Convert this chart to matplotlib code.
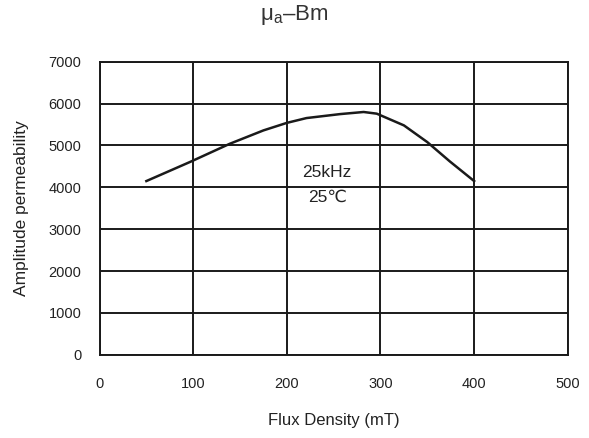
import numpy as np
import matplotlib
matplotlib.use('Agg')
import matplotlib.pyplot as plt

plt.rcParams['font.family'] = ['Liberation Sans', 'DejaVu Sans']
plt.rcParams['mathtext.fontset'] = 'custom'
plt.rcParams['mathtext.rm'] = 'Liberation Sans'

# data
flux = [50, 97, 139, 175, 200, 221, 257, 282, 296, 325, 350, 374, 400]
perm = [4150, 4610, 5040, 5360, 5540, 5655, 5750, 5800, 5760, 5480, 5080, 4620, 4150]

xticks = [0, 100, 200, 300, 400, 500]
yticks = [0, 1000, 2000, 3000, 4000, 5000, 6000, 7000]

fig = plt.figure(figsize=(5.89, 4.38), dpi=100)
ax = fig.add_axes([0.169, 0.190, 0.795, 0.669])

ax.plot(flux, perm, color='#1a1a1a', linewidth=1.8)

ax.set_xlim(0, 500)
ax.set_ylim(0, 7000)
ax.set_xticks(xticks)
ax.set_yticks(yticks)
ax.tick_params(length=0, labelsize=10.5, colors='#222222')
ax.tick_params(axis='x', pad=16)
ax.tick_params(axis='y', pad=13)
ax.grid(True, color='#1a1a1a', linewidth=1.4)
for s in ax.spines.values():
    s.set_linewidth(1.4)
    s.set_color('#1a1a1a')

ax.text(243, 4365, '25kHz', ha='center', va='center', fontsize=12.5, color='#222222')
ax.text(243, 3764, '25℃', ha='center', va='center', fontsize=12.5, color='#222222')

ax.set_xlabel('Flux Density (mT)', fontsize=12, labelpad=16, color='#222222')
ax.set_ylabel('Amplitude permeability', fontsize=12.5, labelpad=14, color='#222222')
fig.text(0.5, 0.965, r'μ$_{\mathrm{a}}$–Bm', ha='center', va='center', fontsize=16, color='#333333')

fig.savefig('out.png', dpi=100)
